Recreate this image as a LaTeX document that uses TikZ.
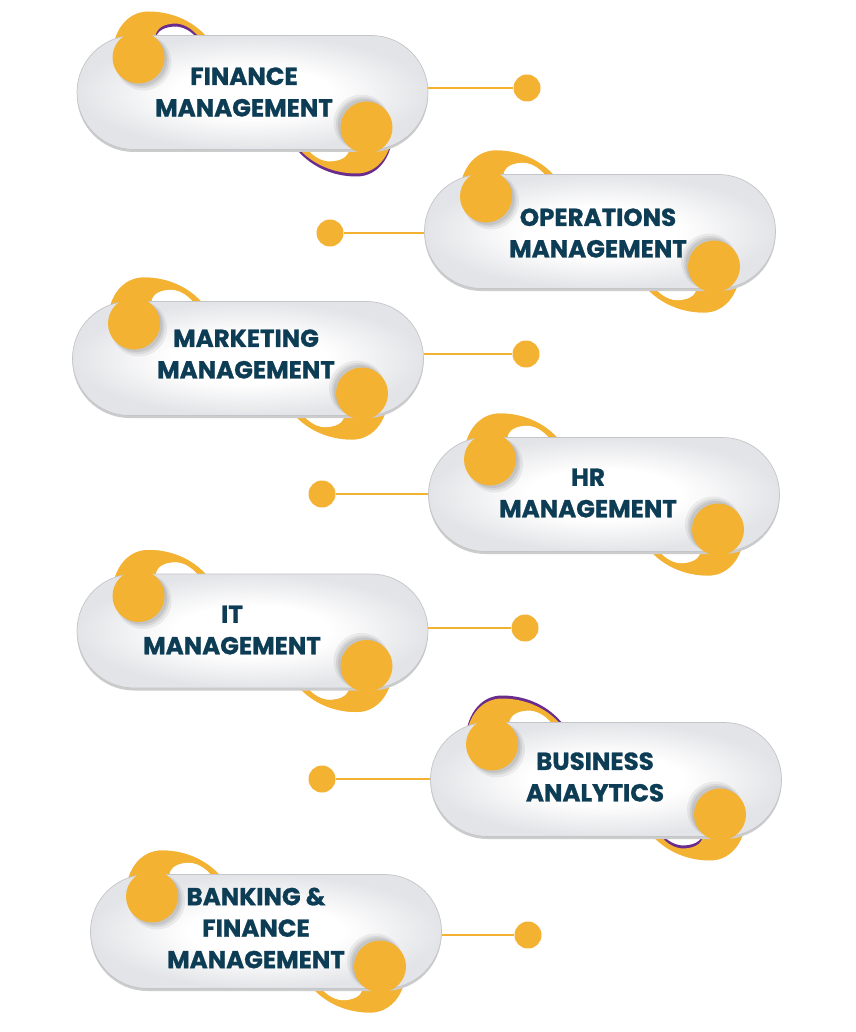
\documentclass[tikz,border=0pt]{standalone}
\usepackage{fontspec}
\newfontfamily\popfont{Poppins}[BoldFeatures={FakeBold=1.1}]
\usetikzlibrary{shapes.misc}
\definecolor{yel}{HTML}{F4B233}
\definecolor{navy}{HTML}{0D3C55}
\definecolor{purp}{HTML}{6A2C8C}
\definecolor{pillgray}{HTML}{E3E4E7}
\definecolor{pilledge}{HTML}{C4C5C8}
\pgfdeclareradialshading{pillshade}{\pgfpoint{0bp}{0bp}}{color(0bp)=(white); color(11bp)=(white); color(25bp)=(pillgray); color(50bp)=(pillgray)}
\tikzset{
  pill/.style={rounded rectangle, minimum width=351pt, minimum height=114pt, inner sep=0pt,
    shading=pillshade, draw=pilledge, line width=0.7pt},
  pillshadow/.style={rounded rectangle, minimum width=351pt, minimum height=114pt, inner sep=0pt,
    fill=black!20},
  lbl/.style={align=center, text=navy, font=\popfont\bfseries\fontsize{24.5}{31.5}\selectfont, inner sep=0pt},
  dotnode/.style={circle, fill=yel, minimum size=27pt, inner sep=0pt},
  conn/.style={draw=yel, line width=2.4pt}
}
% tail of comma in local coordinates (y downward), circle centre at origin
\newcommand\commatail[1]{\fill[#1] (-26,0) .. controls (-27,-22) and (-14,-46) .. (10,-46)
  .. controls (35,-46) and (58,-35) .. (72,-16) -- (64,-16)
  .. controls (56,-27) and (48,-33) .. (38,-34)
  .. controls (28,-34) and (18,-31) .. (17,-21) -- (0,0) -- cycle;}
\newcommand\commashadow{%
  \fill[black, opacity=0.06] (5,5) circle[radius=28pt];
  \fill[black, opacity=0.07] (4,4) circle[radius=26.5pt];
  \fill[black, opacity=0.08] (3,3) circle[radius=25.5pt];}
% tails behind the pill: #1 cx, #2 cy, #3 purple colour, #4 purple dy
\newcommand\tails[4]{%
  \begin{scope}[shift={(#1-114,#2-35)}]
    \begin{scope}[shift={(0,#4)}]\commatail{#3}\end{scope}
    \commatail{yel}
  \end{scope}
  \begin{scope}[shift={(#1+114,#2+35)}, rotate=180]
    \begin{scope}[shift={(0,-#4)}]\commatail{#3}\end{scope}
    \commatail{yel}
  \end{scope}}
\newcommand\heads[2]{%
  \begin{scope}
    \clip[rounded corners=56.5pt] (#1-175.5,#2-57) rectangle (#1+175.5,#2+57);
    \begin{scope}[shift={(#1-114,#2-35)}]\commashadow\end{scope}
    \begin{scope}[shift={(#1+114,#2+35)}, rotate=180]\commashadow\end{scope}
  \end{scope}
  \fill[yel] (#1-114,#2-35) circle[radius=26pt];
  \fill[yel] (#1+114,#2+35) circle[radius=26pt];}
\begin{document}
\begin{tikzpicture}[x=1pt, y=-1pt]
\useasboundingbox (0,0) rectangle (855,1032);
\fill[white] (0,0) rectangle (855,1032);

% ---- 1 FINANCE MANAGEMENT
\tails{252.5}{92.5}{purp}{3}
\node[pillshadow] (s1) at (252.5,95) {};
\node[pill] (p1) at (252.5,92.5) {};
\node[lbl] (t1) at (244,92) {FINANCE\\MANAGEMENT};
\heads{252.5}{92.5}
\node[dotnode] (d1) at (527,88) {};
\draw[conn] (d1.west) -- (d1.west -| p1.east);

% ---- 2 OPERATIONS MANAGEMENT
\tails{600}{231.5}{yel}{0}
\node[pillshadow] (s2) at (600,234) {};
\node[pill] (p2) at (600,231.5) {};
\node[lbl] (t2) at (598,233) {OPERATIONS\\MANAGEMENT};
\heads{600}{231.5}
\node[dotnode] (d2) at (330,233) {};
\draw[conn] (d2.east) -- (d2.east -| p2.west);

% ---- 3 MARKETING MANAGEMENT
\tails{248}{358.5}{yel}{0}
\node[pillshadow] (s3) at (248,361) {};
\node[pill] (p3) at (248,358.5) {};
\node[lbl] (t3) at (246,354) {MARKETING\\MANAGEMENT};
\heads{248}{358.5}
\node[dotnode] (d3) at (526,354) {};
\draw[conn] (d3.west) -- (d3.west -| p3.east);

% ---- 4 HR MANAGEMENT
\tails{604}{494.5}{yel}{0}
\node[pillshadow] (s4) at (604,497) {};
\node[pill] (p4) at (604,494.5) {};
\node[lbl] (t4) at (588,493) {HR\\MANAGEMENT};
\heads{604}{494.5}
\node[dotnode] (d4) at (322,494) {};
\draw[conn] (d4.east) -- (d4.east -| p4.west);

% ---- 5 IT MANAGEMENT
\tails{252.5}{631}{yel}{0}
\node[pillshadow] (s5) at (252.5,633.5) {};
\node[pill] (p5) at (252.5,631) {};
\node[lbl] (t5) at (232,630) {IT\\MANAGEMENT};
\heads{252.5}{631}
\node[dotnode] (d5) at (525,628) {};
\draw[conn] (d5.west) -- (d5.west -| p5.east);

% ---- 6 BUSINESS ANALYTICS
\tails{606}{779.5}{purp}{-3}
\node[pillshadow] (s6) at (606,782) {};
\node[pill] (p6) at (606,779.5) {};
\node[lbl] (t6) at (595,777) {BUSINESS\\ANALYTICS};
\heads{606}{779.5}
\node[dotnode] (d6) at (322,779) {};
\draw[conn] (d6.east) -- (d6.east -| p6.west);

% ---- 7 BANKING & FINANCE MANAGEMENT
\tails{266}{931.5}{yel}{0}
\node[pillshadow] (s7) at (266,934) {};
\node[pill] (p7) at (266,931.5) {};
\node[lbl] (t7) at (256,928) {BANKING \&\\FINANCE\\MANAGEMENT};
\heads{266}{931.5}
\node[dotnode] (d7) at (528,935) {};
\draw[conn] (d7.west) -- (d7.west -| p7.east);
\end{tikzpicture}
\end{document}
